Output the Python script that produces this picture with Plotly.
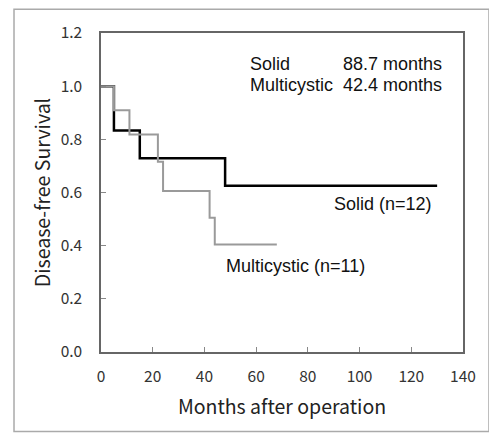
import plotly.graph_objects as go

solid_months = [0, 5, 15, 48, 130]
solid_surv = [1.0, 0.833, 0.729, 0.625, 0.625]
multi_months = [0, 5, 11, 22, 24, 42, 44, 68]
multi_surv = [1.0, 0.909, 0.818, 0.716, 0.606, 0.505, 0.404, 0.404]

x_ticks = [0, 20, 40, 60, 80, 100, 120, 140]
y_ticks = [0.0, 0.2, 0.4, 0.6, 0.8, 1.0, 1.2]
y_tick_text = ["0.0", "0.2", "0.4", "0.6", "0.8", "1.0", "1.2"]

fig = go.Figure()
fig.add_trace(go.Scatter(x=solid_months, y=solid_surv, mode="lines", line_shape="hv",
                         line=dict(color="black", width=2.5), showlegend=False))
fig.add_trace(go.Scatter(x=multi_months, y=multi_surv, mode="lines", line_shape="hv",
                         line=dict(color="#9a9a9a", width=2), showlegend=False))

tick_font = dict(family="Noto Sans CJK JP, DejaVu Sans", size=15.5, color="#333333")
axis_common = dict(showline=True, mirror=True, linecolor="#666666", linewidth=1.5,
                   ticks="inside", ticklen=5, tickcolor="#888888", showgrid=False,
                   zeroline=False, tickfont=tick_font)

title_font = dict(family="Noto Sans CJK JP, DejaVu Sans", size=19.5, color="#222222")
fig.update_xaxes(range=[0, 140], tickvals=x_ticks, ticklabelstandoff=10,
                 title=dict(text="Months after operation", standoff=15, font=title_font),
                 **axis_common)
fig.update_yaxes(range=[0, 1.2], tickvals=y_ticks, ticktext=y_tick_text, ticklabelstandoff=14,
                 title=dict(text="Disease-free Survival", standoff=5, font=title_font),
                 **axis_common)

ann_font = dict(family="Liberation Sans, Arial", size=18, color="#111111")
annotations = [
    dict(x=57, y=1.084, text="Solid", xanchor="left"),
    dict(x=93, y=1.084, text="88.7 months", xanchor="left"),
    dict(x=57, y=1.006, text="Multicystic", xanchor="left"),
    dict(x=93, y=1.006, text="42.4 months", xanchor="left"),
    dict(x=89.3, y=0.557, text="Solid (n=12)", xanchor="left"),
    dict(x=47.6, y=0.325, text="Multicystic (n=11)", xanchor="left"),
]
for a in annotations:
    fig.add_annotation(xref="x", yref="y", showarrow=False, yanchor="middle", font=ann_font, **a)

fig.add_shape(type="rect", xref="paper", yref="paper", x0=-0.2403, x1=1.0718,
              y0=-0.2492, y1=1.0748, line=dict(color="#aaaaaa", width=1.5), layer="below")

# page body has an 8px margin: shrink figure so plot area lands where the reference has it
fig.update_layout(width=489, height=435, margin=dict(l=93, r=34, t=23, b=91),
                  paper_bgcolor="white", plot_bgcolor="white")

fig.write_html("out.html")
